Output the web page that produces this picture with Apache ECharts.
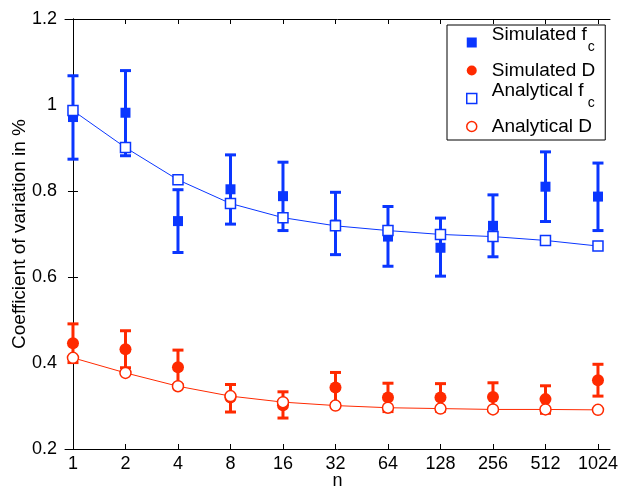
<!DOCTYPE html>
<html>
<head>
<meta charset="utf-8">
<script src="https://cdn.jsdelivr.net/npm/echarts@6/dist/echarts.min.js"></script>
<style>
  html, body { margin: 0; padding: 0; background: #fff; }
  #chart { width: 622px; height: 489px; }
</style>
</head>
<body>
<div id="chart"></div>
<script>
// n = 1, 2, 4 ... 1024 (plotted at log2 position)
const nLabels = ["1", "2", "4", "8", "16", "32", "64", "128", "256", "512", "1024"];
const xPos = [0, 1, 2, 3, 4, 5, 6, 7, 8, 9, 10];

// simulated f_c with error bar limits
const simFc = [0.972, 0.982, 0.730, 0.804, 0.788, 0.722, 0.694, 0.668, 0.719, 0.810, 0.787];
const simFcLow = [0.874, 0.882, 0.657, 0.723, 0.708, 0.652, 0.625, 0.602, 0.647, 0.729, 0.708];
const simFcHigh = [1.068, 1.080, 0.803, 0.884, 0.867, 0.797, 0.764, 0.737, 0.791, 0.891, 0.865];
const anaFc = [0.987, 0.901, 0.826, 0.771, 0.738, 0.719, 0.708, 0.699, 0.694, 0.685, 0.672];

// simulated D with error bar limits
const simD = [0.446, 0.432, 0.390, 0.320, 0.302, 0.343, 0.320, 0.320, 0.321, 0.316, 0.360];
const simDLow = [0.401, 0.389, 0.350, 0.286, 0.272, 0.305, 0.287, 0.288, 0.289, 0.283, 0.323];
const simDHigh = [0.491, 0.475, 0.430, 0.350, 0.333, 0.378, 0.353, 0.352, 0.354, 0.347, 0.397];
const anaD = [0.412, 0.377, 0.346, 0.323, 0.309, 0.301, 0.296, 0.294, 0.292, 0.292, 0.291];

const BLUE = "#0a36ff";
const RED = "#ff2a00";
const FONT = "Liberation Sans";

const chart = echarts.init(document.getElementById("chart"));

const pairs = (ys) => xPos.map((x, i) => [x, ys[i]]);
const bars = (lo, hi) => xPos.map((x, i) => [x, lo[i], hi[i]]);

// error bar: vertical line + caps
function errorBar(color) {
  return function (params, api) {
    const top = api.coord([api.value(0), api.value(2)]);
    const bot = api.coord([api.value(0), api.value(1)]);
    const hw = 5.5;
    const style = { stroke: color, lineWidth: 3 };
    return {
      type: "group",
      children: [
        { type: "line", shape: { x1: top[0], y1: top[1], x2: bot[0], y2: bot[1] }, style },
        { type: "line", shape: { x1: top[0] - hw, y1: top[1], x2: top[0] + hw, y2: top[1] }, style },
        { type: "line", shape: { x1: bot[0] - hw, y1: bot[1], x2: bot[0] + hw, y2: bot[1] }, style },
      ],
    };
  };
}

const xRange = { min: -0.152, max: 10.229 };
const axisLine = { lineStyle: { color: "#000", width: 1 } };

const option = {
  animation: false,
  grid: { left: 65, right: 12, top: 19, bottom: 40, outerBoundsMode: "none" },
  textStyle: { fontFamily: FONT },
  legend: {
    orient: "vertical",
    left: 447,
    top: 25,
    padding: [0, 10, 4, 19],
    itemGap: 1,
    itemWidth: 10,
    itemHeight: 10,
    backgroundColor: "#fff",
    borderColor: "#000",
    borderWidth: 1,
    borderRadius: 0,
    data: [
      { name: "Simulated fc", icon: "rect", itemStyle: { color: BLUE } },
      { name: "Simulated D", icon: "circle", itemStyle: { color: RED } },
      { name: "Analytical fc", icon: "rect", itemStyle: { color: "#fff", borderColor: BLUE, borderWidth: 1.5 } },
      { name: "Analytical D", icon: "circle", itemStyle: { color: "#fff", borderColor: RED, borderWidth: 1.5 } },
    ],
    // "fc" -> f with subscript c on a squeezed second line
    formatter: function (name) {
      if (name.endsWith("fc")) {
        return "{a|" + name.slice(0, -1) + "}\n{s|c}\n{e| }";
      }
      return "{d|" + name + "}";
    },
    textStyle: {
      color: "#000",
      fontFamily: FONT,
      rich: {
        a: { fontSize: 19, fontFamily: FONT, lineHeight: 20, padding: [0, 0, 0, 10] },
        s: { fontSize: 14, fontFamily: FONT, lineHeight: 5, padding: [0, 0, 0, 106] },
        e: { fontSize: 10, lineHeight: 11 },
        d: { fontSize: 19, fontFamily: FONT, lineHeight: 21, padding: [0, 0, 0, 10] },
      },
    },
  },
  xAxis: [
    {
      type: "value",
      ...xRange,
      name: "n",
      nameLocation: "middle",
      nameGap: 23,
      nameMoveOverlap: false,
      nameTextStyle: { fontSize: 18, color: "#000", fontFamily: FONT },
      axisLine,
      axisTick: { inside: true, length: 5, customValues: xPos, lineStyle: { color: "#000" } },
      axisLabel: {
        customValues: xPos,
        formatter: (v) => nLabels[Math.round(v)],
        fontSize: 18,
        color: "#000",
        margin: 6,
        fontFamily: FONT,
      },
      splitLine: { show: false },
    },
    {
      type: "value",
      position: "top",
      ...xRange,
      axisLine,
      axisTick: { inside: true, length: 5, customValues: xPos, lineStyle: { color: "#000" } },
      axisLabel: { show: false },
      splitLine: { show: false },
    },
  ],
  yAxis: [
    {
      type: "value",
      min: 0.2,
      max: 1.2,
      interval: 0.2,
      name: "Coefficient of variation in %",
      nameLocation: "middle",
      nameGap: 36,
      nameMoveOverlap: false,
      nameTextStyle: { fontSize: 19, color: "#000", fontFamily: FONT },
      axisLine: { show: true, ...axisLine },
      axisTick: { show: true, inside: true, length: 5, lineStyle: { color: "#000" } },
      axisLabel: {
        fontSize: 18,
        color: "#000",
        margin: 8,
        fontFamily: FONT,
        formatter: (v) => String(Math.round(v * 10) / 10),
      },
      splitLine: { show: false },
    },
    {
      type: "value",
      position: "right",
      min: 0.2,
      max: 1.2,
      interval: 0.2,
      axisLine: { show: true, ...axisLine },
      axisTick: { show: true, inside: true, length: 5, lineStyle: { color: "#000" } },
      axisLabel: { show: false },
      splitLine: { show: false },
    },
  ],
  series: [
    {
      name: "errFc",
      type: "custom",
      renderItem: errorBar(BLUE),
      data: bars(simFcLow, simFcHigh),
      encode: { x: 0, y: [1, 2] },
      z: 1,
    },
    {
      name: "errD",
      type: "custom",
      renderItem: errorBar(RED),
      data: bars(simDLow, simDHigh),
      encode: { x: 0, y: [1, 2] },
      z: 1,
    },
    {
      name: "Simulated fc",
      type: "scatter",
      symbol: "rect",
      symbolSize: 10,
      itemStyle: { color: BLUE, opacity: 1 },
      data: pairs(simFc),
      z: 2,
    },
    {
      name: "Simulated D",
      type: "scatter",
      symbol: "circle",
      symbolSize: 12,
      itemStyle: { color: RED, opacity: 1 },
      data: pairs(simD),
      z: 2,
    },
    {
      name: "Analytical fc",
      type: "line",
      symbol: "rect",
      symbolSize: 10,
      showAllSymbol: true,
      lineStyle: { color: BLUE, width: 1 },
      itemStyle: { color: "#fff", borderColor: BLUE, borderWidth: 1.5 },
      data: pairs(anaFc),
      z: 3,
    },
    {
      name: "Analytical D",
      type: "line",
      symbol: "circle",
      symbolSize: 11,
      showAllSymbol: true,
      lineStyle: { color: RED, width: 1 },
      itemStyle: { color: "#fff", borderColor: RED, borderWidth: 1.5 },
      data: pairs(anaD),
      z: 3,
    },
  ],
};

chart.setOption(option);
</script>
</body>
</html>
